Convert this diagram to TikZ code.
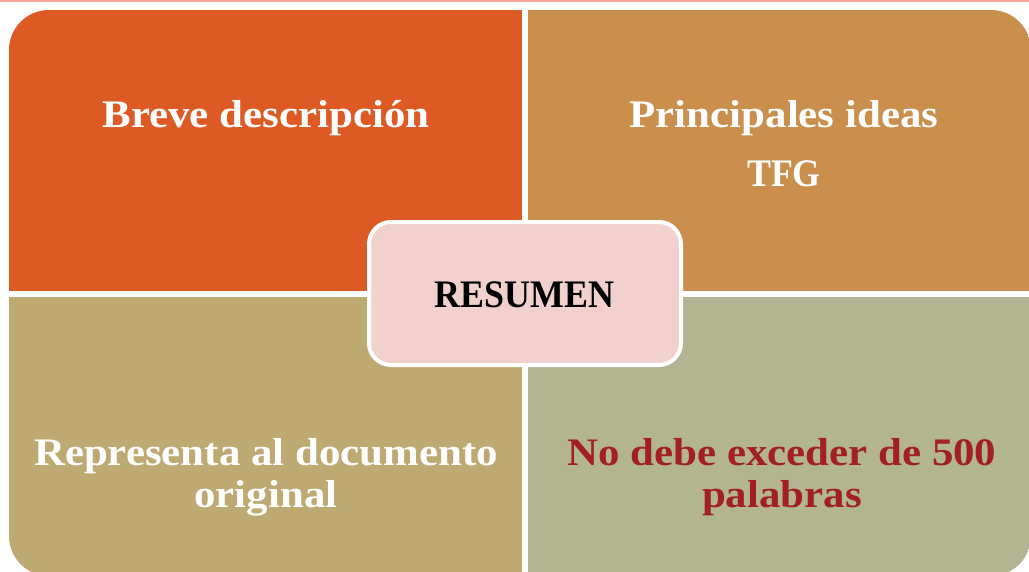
\documentclass[tikz,border=0pt]{standalone}
\usepackage{fontspec}
\setmainfont{Liberation Serif}[FakeStretch=1.1]
\newfontfamily\capsfont{Liberation Serif}[FakeStretch=0.92]
\definecolor{cTL}{HTML}{DD5A24}
\definecolor{cTR}{HTML}{CA8F4D}
\definecolor{cBL}{HTML}{BEA972}
\definecolor{cBR}{HTML}{B3B492}
\definecolor{cC}{HTML}{F2D1CC}
\definecolor{cRed}{HTML}{A21F24}
\definecolor{cLine}{HTML}{F3A797}
\tikzset{
  lbl/.style={font=\fontsize{39}{42}\selectfont\bfseries, align=center, inner sep=0pt, anchor=base},
}
\begin{document}
\begin{tikzpicture}[x=1pt,y=-1pt]
\useasboundingbox (0,0) rectangle (1029,571);
\fill[cLine] (0,0) rectangle (1029,2);
\begin{scope}
  \clip[rounded corners=40pt] (9,10) rectangle (1031,576);
  \fill[cTL] (9,10) rectangle (522,291);
  \fill[cTR] (528,10) rectangle (1031,291);
  \fill[cBL] (9,297) rectangle (522,576);
  \fill[cBR] (528,297) rectangle (1031,576);
\end{scope}
\node[lbl, text=white] (tl) at (266,127) {Breve descripción};
\node[lbl, text=white] (tr) at (784,186) {Principales ideas\\[17pt]{\capsfont TFG}};
\node[lbl, text=white] (bl) at (266,507) {Representa al documento\\original};
\node[lbl, text=cRed] (br) at (782,507) {No debe exceder de 500\\palabras};
\node[draw=white, line width=4pt, fill=cC, rounded corners=22pt,
      minimum width=312pt, minimum height=143pt] (res) at (525,293.5) {};
\node[lbl, text=black, font=\fontsize{39}{42}\selectfont\bfseries\capsfont] (rt) at (524.5,307) {RESUMEN};
\end{tikzpicture}
\end{document}
